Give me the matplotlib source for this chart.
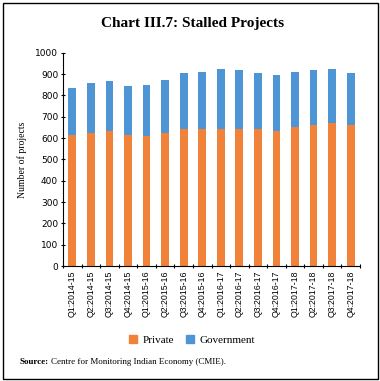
import matplotlib
matplotlib.use("Agg")
import matplotlib.pyplot as plt
from matplotlib.patches import Rectangle, Patch
import numpy as np

categories = ["Q1:2014-15", "Q2:2014-15", "Q3:2014-15", "Q4:2014-15",
              "Q1:2015-16", "Q2:2015-16", "Q3:2015-16", "Q4:2015-16",
              "Q1:2016-17", "Q2:2016-17", "Q3:2016-17", "Q4:2016-17",
              "Q1:2017-18", "Q2:2017-18", "Q3:2017-18", "Q4:2017-18"]
private = [614, 625, 631, 614, 608, 625, 641, 641,
           640, 640, 640, 631, 654, 661, 669, 660]
total = [833, 858, 866, 842, 848, 870, 904, 910,
         924, 918, 904, 896, 910, 918, 924, 904]
government = [t - p for t, p in zip(total, private)]
yticks = list(range(0, 1001, 100))

c_priv = "#F0823A"
c_gov = "#4E95D6"

fig = plt.figure(figsize=(3.8, 3.81), dpi=100)
W, H = 380, 381
ax = fig.add_axes([63 / W, 1 - 266 / H, (360 - 63) / W, (266 - 52.7) / H])

x = np.arange(len(categories))
ax.bar(x, private, width=0.42, color=c_priv, label="Private")
ax.bar(x, government, width=0.42, bottom=private, color=c_gov, label="Government")

ax.set_xlim(-0.5, len(categories) - 0.5)
ax.set_ylim(0, 1000)
ax.set_yticks(yticks)
ax.set_yticklabels([str(v) for v in yticks], fontsize=6.5, family="DejaVu Sans")
ax.set_xticks(np.arange(-0.5, len(categories), 1.0))
ax.set_xticklabels([])
ax.set_xticks(x, minor=True)
ax.set_xticklabels(categories, minor=True, rotation=90, fontsize=6.3, family="Liberation Sans")
ax.tick_params(axis="x", which="minor", length=0, pad=3)
ax.tick_params(axis="x", which="major", length=3, width=0.8, direction="inout")
ax.tick_params(axis="y", length=3, width=0.8, direction="inout", pad=2)
for s in ["top", "right"]:
    ax.spines[s].set_visible(False)
for s in ["left", "bottom"]:
    ax.spines[s].set_linewidth(0.8)

fig.text(22 / W, 1 - 160 / H, "Number of projects", rotation=90, ha="center", va="center",
         fontsize=7, family="Liberation Serif")

fig.text(193 / W, 1 - 24 / H, "Chart III.7: Stalled Projects", ha="center", va="center",
         fontsize=11, fontweight="bold", family="Liberation Serif")

handles = [Patch(color=c_priv, label="Private"), Patch(color=c_gov, label="Government")]
fig.legend(handles=handles, loc="center", bbox_to_anchor=(192 / W, 1 - 340 / H), ncol=2,
           frameon=False, prop={"family": "Liberation Serif", "size": 8},
           handlelength=0.8, handleheight=0.8, handletextpad=0.5, columnspacing=1.0)

fig.text(20 / W, 1 - 362 / H, "Source:", ha="left", va="center", fontsize=6.5,
         family="Liberation Serif", fontweight="bold")
fig.text(51 / W, 1 - 362 / H, "Centre for Monitoring Indian Economy (CMIE).", ha="left",
         va="center", fontsize=6.5, family="Liberation Serif")

fig.patches.append(Rectangle((2.5 / W, 2.5 / H), 1 - 5 / W, 1 - 5 / H, transform=fig.transFigure,
                             fill=False, edgecolor="black", linewidth=1.0, figure=fig))

fig.savefig("out.png", dpi=100)
